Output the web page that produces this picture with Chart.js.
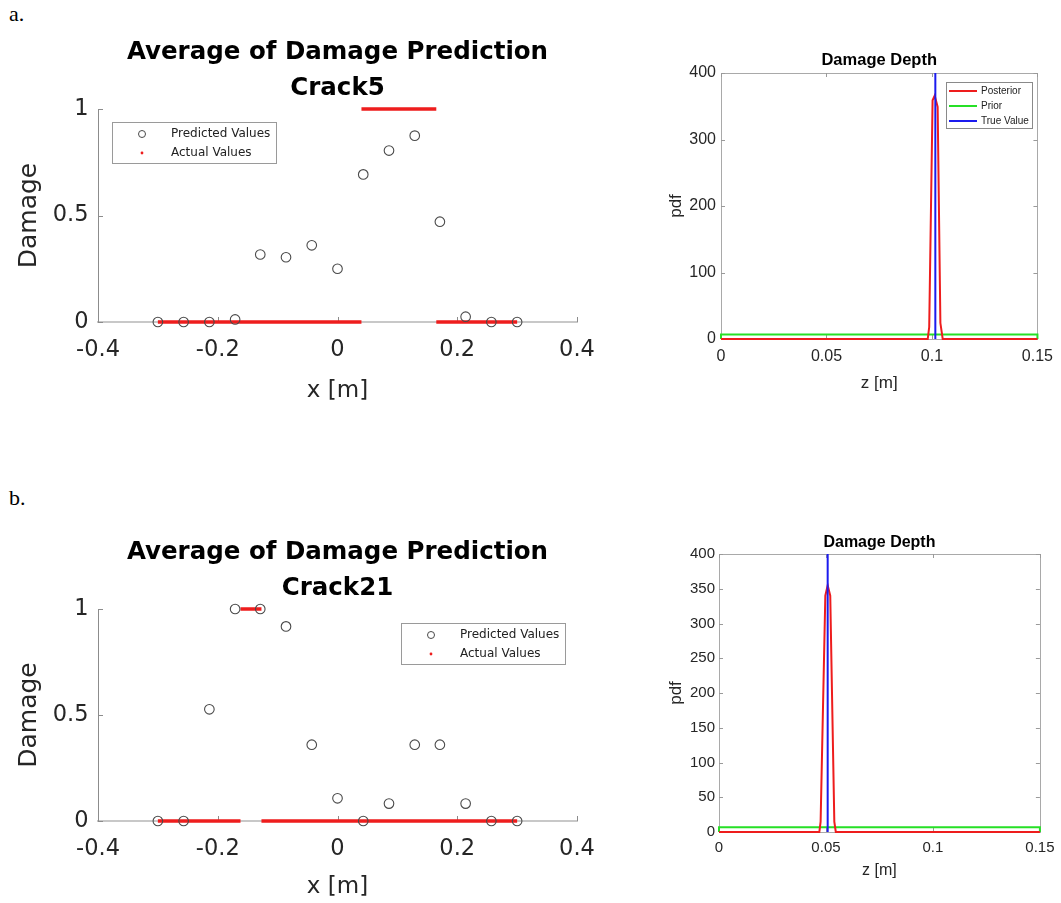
<!DOCTYPE html>
<html>
<head>
<meta charset="utf-8">
<script src="https://cdn.jsdelivr.net/npm/chart.js@4.4.1/dist/chart.umd.min.js"></script>
<style>
    body { margin: 0; background: #fff; }
    #page { position: relative; width: 1061px; height: 903px; overflow: hidden; background: #fff; }
    canvas { position: absolute; }
    .tag { position: absolute; font-family: 'Liberation Serif', 'Times New Roman', serif; font-size: 22px; line-height: 1; color: #000; }
</style>
</head>
<body>
<div id="page">
    <div class="tag" style="left:9px;top:3px">a.</div>
    <div class="tag" style="left:9px;top:487px">b.</div>
    <canvas id="damageA" width="620" height="410" style="left:0;top:0"></canvas>
    <canvas id="depthA" width="421" height="380" style="left:640px;top:30px"></canvas>
    <canvas id="damageB" width="620" height="403" style="left:0;top:500px"></canvas>
    <canvas id="depthB" width="421" height="380" style="left:640px;top:510px"></canvas>
</div>
<script>
// ===================================
// DATA
// ===================================

// sensor positions along the beam [m]
const nodeX = [-0.3, -0.257, -0.214, -0.171, -0.129, -0.086, -0.043, 0, 0.043, 0.086, 0.129, 0.171, 0.214, 0.257, 0.3];

// predicted damage, Crack5 and Crack21
const predA = [0, 0, 0, 0.012, 0.317, 0.304, 0.36, 0.25, 0.693, 0.805, 0.875, 0.471, 0.025, 0, 0];
const predB = [0, 0, 0.527, 1, 1, 0.918, 0.36, 0.107, 0, 0.082, 0.36, 0.36, 0.082, 0, 0];

// actual damage: 1 inside the crack zone, 0 elsewhere on the beam
const beamX = [-0.3, 0.3];
const crackA = [0.04, 0.165];
const crackB = [-0.162, -0.127];

// damage depth pdfs
const priorZ = [0, 0, 0.15, 0.15];
const priorPdf = [0, 6.67, 6.67, 0];

const postZA = [0, 0.098, 0.0987, 0.1003, 0.1013, 0.1027, 0.104, 0.1051, 0.15];
const postPdfA = [0, 0, 18, 359, 366, 349, 24, 0, 0];
const trueZA = 0.1016;

const postZB = [0, 0.0469, 0.0475, 0.0497, 0.0508, 0.052, 0.0539, 0.0546, 0.15];
const postPdfB = [0, 0, 15, 340, 355, 340, 15, 0, 0];
const trueZB = 0.0508;
const truePdf = [0, 400];

const RED = '#ee1d1d';
const GREEN = '#26e026';
const BLUE = '#1b1bef';
const WIDE = "'DejaVu Sans', sans-serif";
const ARIAL = "'Liberation Sans', Arial, sans-serif";

// matlab-like tick text: 1 instead of 1.0, 0.1 instead of 0.10
const plainTick = v => String(Number(v.toFixed(4)));

// inward tick marks + optional full box (MATLAB style)
const innerTicks = {
    id: 'innerTicks',
    beforeDatasetsDraw(chart, args, opts) {
        const { ctx, chartArea: a, scales } = chart;
        ctx.save();
        if (opts.box) {
            ctx.strokeStyle = opts.boxColor;
            ctx.lineWidth = 1;
            ctx.strokeRect(Math.round(a.left) + 0.5, Math.round(a.top) + 0.5,
                Math.round(a.right - a.left), Math.round(a.bottom - a.top));
        }
        ctx.strokeStyle = opts.color;
        ctx.lineWidth = 1;
        ctx.beginPath();
        scales.x.ticks.forEach(t => {
            const px = Math.round(scales.x.getPixelForValue(t.value)) + 0.5;
            ctx.moveTo(px, a.bottom);
            ctx.lineTo(px, a.bottom - opts.len);
            if (opts.box) {
                ctx.moveTo(px, a.top);
                ctx.lineTo(px, a.top + opts.len);
            }
        });
        scales.y.ticks.forEach(t => {
            const py = Math.round(scales.y.getPixelForValue(t.value)) + 0.5;
            ctx.moveTo(a.left, py);
            ctx.lineTo(a.left + opts.len, py);
            if (opts.box) {
                ctx.moveTo(a.right, py);
                ctx.lineTo(a.right - opts.len, py);
            }
        });
        ctx.stroke();
        ctx.restore();
    }
};

// boxed legend inside the axes
const boxLegend = {
    id: 'boxLegend',
    afterDatasetsDraw(chart, args, opts) {
        if (!opts.kinds) return;
        const { ctx, chartArea: a } = chart;
        const left = Math.round(opts.anchor === 'right' ? a.right - opts.dx - opts.width : a.left + opts.dx);
        const top = Math.round(a.top + opts.dy);
        ctx.save();
        ctx.fillStyle = '#fff';
        ctx.fillRect(left, top, opts.width, opts.height);
        ctx.strokeStyle = opts.border;
        ctx.lineWidth = 1;
        ctx.strokeRect(left + 0.5, top + 0.5, opts.width, opts.height);
        ctx.font = opts.font;
        ctx.textBaseline = 'middle';
        ctx.textAlign = 'left';
        chart.data.datasets.forEach((ds, i) => {
            const y = top + opts.rows[i];
            const kind = opts.kinds[i];
            if (kind === 'ring') {
                ctx.strokeStyle = ds.pointBorderColor;
                ctx.beginPath();
                ctx.arc(left + opts.symbolX, y, 3.5, 0, Math.PI * 2);
                ctx.stroke();
            } else if (kind === 'dot') {
                ctx.fillStyle = ds.borderColor;
                ctx.beginPath();
                ctx.arc(left + opts.symbolX, y, 1.4, 0, Math.PI * 2);
                ctx.fill();
            } else {
                ctx.strokeStyle = ds.borderColor;
                ctx.lineWidth = 2;
                ctx.beginPath();
                ctx.moveTo(left + opts.symbolX, y);
                ctx.lineTo(left + opts.symbolX + opts.symbolW, y);
                ctx.stroke();
                ctx.lineWidth = 1;
            }
            ctx.fillStyle = '#222';
            ctx.fillText(ds.label, left + opts.textX, y);
        });
        ctx.restore();
    }
};

function damageChart(id, pred, crack, crackName, legendOpts, xAxisHeight, xTitlePad) {
    const actual = [
        { x: beamX[0], y: 0 }, { x: crack[0], y: 0 }, { x: crack[0], y: null },
        { x: crack[0], y: 1 }, { x: crack[1], y: 1 }, { x: crack[1], y: null },
        { x: crack[1], y: 0 }, { x: beamX[1], y: 0 }
    ];

    return new Chart(document.getElementById(id), {
        type: 'scatter',
        data: {
            datasets: [
                {
                    label: 'Predicted Values',
                    data: nodeX.map((x, i) => ({ x: x, y: pred[i] })),
                    pointStyle: 'circle',
                    pointRadius: 4.8,
                    pointBorderWidth: 1.1,
                    pointBorderColor: '#4a4a4a',
                    pointBackgroundColor: 'rgba(0,0,0,0)',
                    showLine: false,
                    clip: false,
                    order: 1
                },
                {
                    label: 'Actual Values',
                    data: actual,
                    showLine: true,
                    borderColor: RED,
                    borderWidth: 3.5,
                    pointRadius: 0,
                    spanGaps: false,
                    clip: false,
                    order: 2
                }
            ]
        },
        options: {
            responsive: false,
            animation: false,
            layout: { padding: { left: 0, right: 43, top: 0, bottom: 0 } },
            plugins: {
                legend: { display: false },
                tooltip: { enabled: false },
                title: {
                    display: true,
                    fullSize: false,
                    text: ['Average of Damage Prediction', crackName],
                    color: '#000',
                    font: { family: WIDE, size: 24.5, weight: 'bold', lineHeight: 1.5 },
                    padding: { top: 34, bottom: 1.5 }
                },
                innerTicks: { len: 5, color: '#8c8c8c', box: false },
                boxLegend: legendOpts
            },
            scales: {
                x: {
                    type: 'linear',
                    min: -0.4,
                    max: 0.4,
                    ticks: { stepSize: 0.2, padding: 15, color: '#262626', font: { family: WIDE, size: 22.5 }, callback: plainTick },
                    grid: { display: false, drawTicks: false },
                    border: { color: '#c8c8c8', width: 2 },
                    title: { display: true, text: 'x [m]', color: '#262626', font: { family: WIDE, size: 23 }, padding: { top: 0, bottom: xTitlePad } },
                    afterFit: s => { s.height = xAxisHeight; }
                },
                y: {
                    min: 0,
                    max: 1,
                    ticks: { stepSize: 0.5, padding: 9.5, color: '#262626', font: { family: WIDE, size: 22.5 }, callback: plainTick },
                    grid: { display: false, drawTicks: false },
                    border: { color: '#8c8c8c', width: 1 },
                    title: { display: true, text: 'Damage', color: '#262626', font: { family: WIDE, size: 25 }, padding: { top: 14.5, bottom: 0 } },
                    afterFit: s => { s.width = 98; }
                }
            }
        },
        plugins: [innerTicks, boxLegend]
    });
}

function depthChart(id, postZ, postPdf, trueZ, geo) {
    return new Chart(document.getElementById(id), {
        type: 'scatter',
        data: {
            datasets: [
                {
                    label: 'Posterior',
                    data: postZ.map((z, i) => ({ x: z, y: postPdf[i] })),
                    showLine: true, borderColor: RED, borderWidth: 2, pointRadius: 0, clip: false, order: 1
                },
                {
                    label: 'Prior',
                    data: priorZ.map((z, i) => ({ x: z, y: priorPdf[i] })),
                    showLine: true, borderColor: GREEN, borderWidth: 2, pointRadius: 0, clip: false, order: 2
                },
                {
                    label: 'True Value',
                    data: truePdf.map(p => ({ x: trueZ, y: p })),
                    showLine: true, borderColor: BLUE, borderWidth: 2, pointRadius: 0, clip: false, order: 0
                }
            ]
        },
        options: {
            responsive: false,
            animation: false,
            layout: { padding: { left: 0, right: geo.padRight, top: 0, bottom: 0 } },
            plugins: {
                legend: { display: false },
                tooltip: { enabled: false },
                title: {
                    display: true,
                    fullSize: false,
                    text: 'Damage Depth',
                    color: '#000',
                    font: { family: ARIAL, size: geo.titleSize, weight: 'bold', lineHeight: 1.2 },
                    padding: { top: geo.titleTop, bottom: geo.titleBottom }
                },
                innerTicks: { len: 4, color: '#9a9a9a', box: true, boxColor: '#a9a9a9' },
                boxLegend: geo.legend
            },
            scales: {
                x: {
                    type: 'linear',
                    min: 0,
                    max: 0.15,
                    ticks: { stepSize: 0.05, padding: geo.xPad, color: '#262626', font: { family: ARIAL, size: geo.tickSize }, callback: plainTick },
                    grid: { display: false, drawTicks: false },
                    border: { display: false },
                    title: { display: true, text: 'z [m]', color: '#262626', font: { family: ARIAL, size: geo.labelSize }, padding: { top: 0, bottom: geo.xTitlePad } },
                    afterFit: s => { s.height = geo.xHeight; }
                },
                y: {
                    min: 0,
                    max: 400,
                    ticks: { stepSize: geo.yStep, padding: geo.yPad, color: '#262626', font: { family: ARIAL, size: geo.tickSize }, callback: plainTick },
                    grid: { display: false, drawTicks: false },
                    border: { display: false },
                    title: { display: true, text: 'pdf', color: '#262626', font: { family: ARIAL, size: 17 }, padding: { top: 25.8, bottom: 0 } },
                    afterFit: s => { s.width = geo.yWidth; }
                }
            }
        },
        plugins: [innerTicks, boxLegend]
    });
}

damageChart('damageA', predA, crackA, 'Crack5', {
    anchor: 'left', dx: 13.5, dy: 13, width: 164, height: 41, rows: [12, 31],
    symbolX: 30, textX: 59, font: "12px 'DejaVu Sans', sans-serif", border: '#9a9a9a', kinds: ['ring', 'dot']
}, 88, 5);

damageChart('damageB', predB, crackB, 'Crack21', {
    anchor: 'left', dx: 303, dy: 14, width: 164, height: 41, rows: [12, 31],
    symbolX: 30, textX: 59, font: "12px 'DejaVu Sans', sans-serif", border: '#9a9a9a', kinds: ['ring', 'dot']
}, 82, 2);

depthChart('depthA', postZA, postPdfA, trueZA, {
    padRight: 23, titleSize: 16.5, titleTop: 20.3, titleBottom: 2.9,
    tickSize: 16, labelSize: 17, xPad: 8, yPad: 5, xTitlePad: 16.8, xHeight: 71,
    yWidth: 81, yStep: 100,
    legend: {
        anchor: 'right', dx: 5, dy: 9, width: 86, height: 46, rows: [9, 24, 39],
        symbolX: 3, symbolW: 28, textX: 35, font: "10px 'Liberation Sans', Arial, sans-serif", border: '#8a8a8a',
        kinds: ['line', 'line', 'line']
    }
});

depthChart('depthB', postZB, postPdfB, trueZB, {
    padRight: 17, titleSize: 16, titleTop: 22.8, titleBottom: 2,
    tickSize: 15, labelSize: 16, xPad: 6.5, yPad: 4, xTitlePad: 9.8, xHeight: 58,
    yWidth: 79, yStep: 50,
    legend: {}
});
</script>
</body>
</html>
